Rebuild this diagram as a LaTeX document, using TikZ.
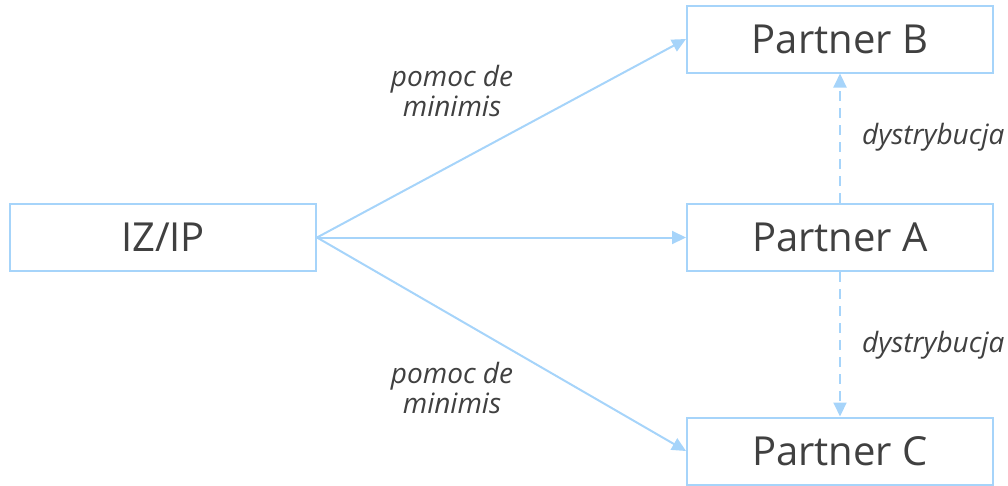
\documentclass[tikz,border=0pt]{standalone}
\usepackage{fontspec}
\setmainfont{Open Sans}
\usepackage{tikz}
\usetikzlibrary{arrows.meta}
\definecolor{lineblue}{HTML}{A6D4FA}
\definecolor{textgray}{HTML}{404040}
\tikzstyle{box} = [rectangle, draw = lineblue, line width = 2pt, minimum width = 306pt, minimum height = 67pt, inner sep = 0pt, text = textgray, font = \fontsize{40}{48}\selectfont]
\tikzstyle{flow} = [draw = lineblue, line width = 2pt, -{Triangle[length = 14pt, width = 13pt]}]
\tikzstyle{note} = [text = textgray, font = \fontsize{28}{30}\selectfont\itshape, inner sep = 0pt]

\begin{document}
\begin{tikzpicture}[x = 1pt, y = -1pt]
        \useasboundingbox (0, 0) rectangle (1008, 485);
        \node (izip) at (163, 237.5) [box] {IZ/IP};
        \node (pb) at (840, 39) [box] {Partner B};
        \node (pa) at (840, 237.5) [box] {Partner A};
        \node (pc) at (840, 451) [box] {Partner C};
        \draw [flow] (izip.east) -- (pb.west);
        \draw [flow] (izip.east) -- (pa.west);
        \draw [flow] (izip.east) -- (pc.west);
        \draw [flow, dash pattern = on 10pt off 7pt] (pa.north) -- (pb.south);
        \draw [flow, dash pattern = on 10pt off 7pt] (pa.south) -- (pc.north);
        \node (up) at (452, 91) [note, align = center] {pomoc de\\minimis};
        \node (down) at (452, 388) [note, align = center] {pomoc de\\minimis};
        \node (d1) at (862, 137) [note, anchor = west] {dystrybucja};
        \node (d2) at (862, 345) [note, anchor = west] {dystrybucja};
    \end{tikzpicture}
\end{document}
